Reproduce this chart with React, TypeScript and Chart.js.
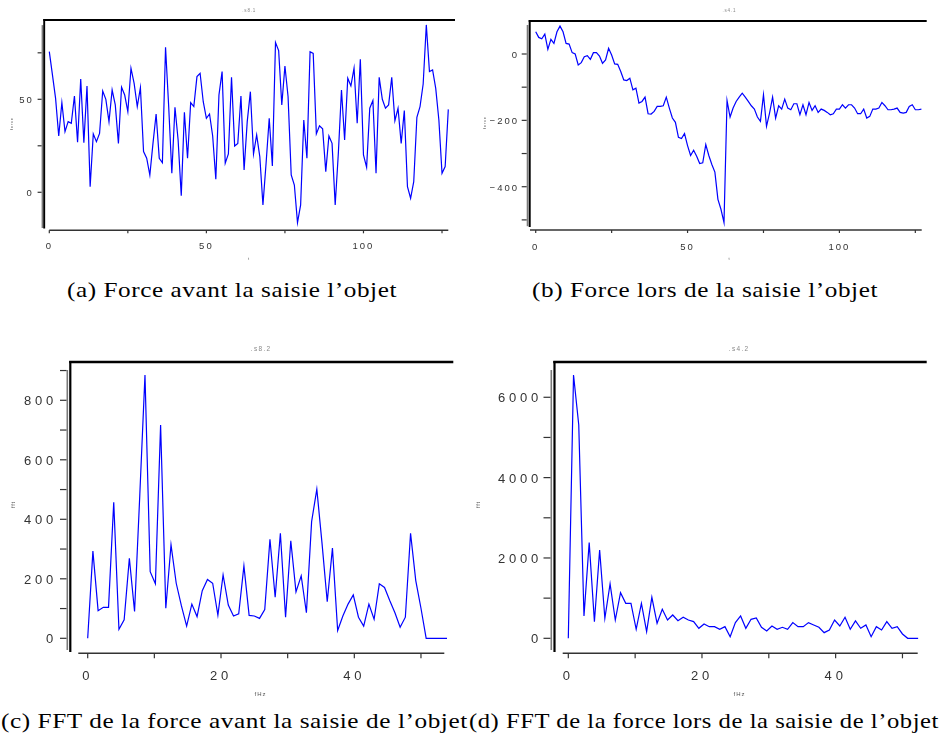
import React, { useEffect, useLayoutEffect, useRef } from 'react';
import { Chart, registerables } from 'chart.js';

Chart.register(...registerables);

// ---------- data ----------
const SERIES_A = [
  75.6, 63.1, 50.5, 30.3, 48.2, 32.6, 38.0, 37.1, 51.8, 26.9,
  60.9, 26.7, 57.2, 3.0, 31.4, 27.2, 31.7, 54.5, 50.0, 38.0,
  55.0, 47.0, 26.3, 56.5, 52.3, 43.4, 66.7, 58.6, 46.1, 56.3,
  21.9, 18.3, 9.3, 26.3, 42.1, 18.3, 15.9, 78.0, 46.1, 10.2,
  45.7, 28.1, -1.8, 43.0, 18.3, 48.2, 46.1, 62.2, 64.0, 48.7,
  39.8, 42.1, 30.3, 7.0, 52.3, 64.9, 15.6, 20.6, 61.8, 24.9,
  26.3, 51.8, 12.0, 38.0, 54.1, 20.6, 30.8, 19.2, -6.8, 15.6,
  39.8, 14.2, 80.5, 76.2, 47.0, 67.9, 51.4, 9.3, 3.9, -16.3,
  -6.8, 38.9, 18.3, 75.6, 74.7, 31.4, 35.7, 34.1, 11.1, 30.3,
  26.3, -6.8, 21.0, 55.0, 28.1, 61.3, 57.2, 66.7, 37.1, 71.5,
  20.1, 13.4, 45.2, 49.3, 10.2, 61.8, 50.0, 45.2, 47.0, 61.8,
  38.5, 45.2, 26.3, 43.9, 3.0, -3.2, 5.7, 40.3, 46.1, 58.2,
  90.0, 64.9, 65.8, 55.9, 38.9, 10.2, 13.8, 44.6,
];

const SERIES_B = [
  67, 50, 46, 60, 14, 44, 32, 67, 84, 67,
  32, 30, 4, 0, -33, -26, -8, -5, -16, 4,
  4, -6, -28, -18, 17, -3, -30, -31, -53, -78,
  -80, -73, -108, -103, -148, -143, -130, -180, -181, -173,
  -158, -158, -156, -130, -163, -193, -206, -251, -255, -240,
  -276, -306, -290, -308, -330, -328, -273, -306, -333, -356,
  -438, -468, -508, -140, -190, -163, -143, -130, -118, -130,
  -143, -156, -166, -190, -203, -123, -218, -178, -130, -193,
  -156, -166, -136, -163, -168, -150, -150, -183, -153, -183,
  -146, -170, -156, -176, -166, -170, -176, -183, -180, -166,
  -166, -153, -163, -153, -153, -163, -180, -180, -166, -193,
  -188, -166, -166, -163, -146, -156, -168, -168, -166, -163,
  -176, -178, -176, -158, -153, -168, -168, -166,
];

const SERIES_C = [
  0, 293, 93, 104, 104, 457, 30, 62, 269, 90,
  480, 885, 224, 183, 717, 101, 314, 185, 109, 41,
  115, 73, 160, 198, 185, 78, 213, 112, 75, 82,
  243, 77, 75, 67, 97, 333, 138, 353, 71, 328,
  156, 210, 86, 392, 501, 319, 123, 303, 26, 75,
  115, 146, 71, 41, 115, 64, 183, 171, 127, 86,
  37, 71, 353, 194, 101, 0, 0, 0, 0, 0, 0,
];

const SERIES_D = [
  0, 6556, 5311, 556, 2382, 415, 2199, 498, 1353, 456,
  1137, 871, 871, 224, 871, 166, 1021, 373, 722, 456,
  581, 440, 523, 456, 415, 249, 357, 290, 290, 224,
  290, 41, 390, 556, 249, 473, 506, 274, 183, 307,
  224, 274, 224, 390, 290, 290, 390, 332, 274, 141,
  207, 456, 307, 523, 224, 432, 249, 332, 41, 290,
  207, 415, 249, 290, 108, 0, 0, 0, 0,
];

const TIME_STEP = 1;          // one sample per index
const FREQ_STEP = 100 / 128;  // Hz per FFT bin

const TIME_X_TICKS = [0, 25, 50, 75, 100, 125];
const TIME_X_LABELS = [0, 50, 100];
const FREQ_X_TICKS = [0, 10, 20, 30, 40, 50];
const FREQ_X_LABELS = [0, 20, 40];
const A_Y_TICKS = [0, 25, 50, 75];
const A_Y_LABELS = [0, 50];
const B_Y_TICKS = [-500, -400, -300, -200, -100, 0];
const B_Y_LABELS = [-400, -200, 0];
const C_Y_TICKS = [0, 100, 200, 300, 400, 500, 600, 700, 800, 900];
const C_Y_LABELS = [0, 200, 400, 600, 800];
const D_Y_TICKS = [0, 1000, 2000, 3000, 4000, 5000, 6000];
const D_Y_LABELS = [0, 2000, 4000, 6000];

const TITLES = ['.s8.1', '.s4.1', '.s8.2', '.s4.2'];
const X_TITLES = ['t', 't', 'fHz', 'fHz'];
const Y_TITLES = ['force', 'force', 'fft', 'fft'];
const CAPTIONS = [
  '(a) Force avant la saisie l\u2019objet',
  '(b) Force lors de la saisie l\u2019objet',
  '(c) FFT de la force avant la saisie de l\u2019objet',
  '(d) FFT de la force lors de la saisie de l\u2019objet',
];

// ---------- layout / style ----------
type Panel = {
  key: string;
  series: number[]; step: number;
  xTicks: number[]; xLabels: number[]; yTicks: number[]; yLabels: number[];
  title: string; xTitle: string; yTitle: string;
  cx: number; cy: number; w: number; h: number;
  L: number; T: number; R: number; B: number;
  xMin: number; xMax: number; yMin: number; yMax: number;
  font: number; spacing: number; yPad: number; xPad: number;
  grayX: number; grayW: number; yTickLen: number;
  blackX: number; blackW: number; blackTop: number; blackBottom: number;
  topY: number; topW: number; topL: number; topR: number;
  xAxisY: number; xAxisW: number; xTickLen: number;
  titleX: number; titleY: number; titleSize: number; titleSp: number;
  xtX: number; xtY: number; xtSize: number;
  ytX: number; ytY: number; ytSize: number;
};

const SANS = '"Liberation Sans", Arial, Helvetica, sans-serif';

const PANELS: Panel[] = [
  {
    key: 'a', series: SERIES_A, step: TIME_STEP,
    xTicks: TIME_X_TICKS, xLabels: TIME_X_LABELS, yTicks: A_Y_TICKS, yLabels: A_Y_LABELS,
    title: TITLES[0], xTitle: X_TITLES[0], yTitle: Y_TITLES[0],
    cx: 0, cy: 0, w: 470, h: 268,
    L: 49.3, T: 25.1, R: 448.3, B: 228.0,
    xMin: 0, xMax: 127, yMin: -19.2, yMax: 89.9,
    font: 9.5, spacing: 2, yPad: 15.6, xPad: 13.0,
    grayX: 42.5, grayW: 1.8, yTickLen: 4,
    blackX: 44.2, blackW: 1.9, blackTop: 19, blackBottom: 228.5,
    topY: 20, topW: 2.2, topL: 43.3, topR: 455,
    xAxisY: 230.3, xAxisW: 1.4, xTickLen: 3,
    titleX: 248.8, titleY: 11, titleSize: 4.5, titleSp: 0.8,
    xtX: 248.5, xtY: 259, xtSize: 4,
    ytX: 12, ytY: 124, ytSize: 4,
  },
  {
    key: 'b', series: SERIES_B, step: TIME_STEP,
    xTicks: TIME_X_TICKS, xLabels: TIME_X_LABELS, yTicks: B_Y_TICKS, yLabels: B_Y_LABELS,
    title: TITLES[1], xTitle: X_TITLES[1], yTitle: Y_TITLES[1],
    cx: 470, cy: 0, w: 471, h: 268,
    L: 530, T: 25.0, R: 921.7, B: 226.2,
    xMin: -1.88, xMax: 127.1, yMin: -519, yMax: 87.4,
    font: 9.5, spacing: 2, yPad: 11, xPad: 15.4,
    grayX: 527.5, grayW: 1.6, yTickLen: 5,
    blackX: 529.7, blackW: 2, blackTop: 20, blackBottom: 227,
    topY: 21, topW: 2.2, topL: 528.7, topR: 926.7,
    xAxisY: 230, xAxisW: 1.4, xTickLen: 3,
    titleX: 729, titleY: 11, titleSize: 4.5, titleSp: 0.8,
    xtX: 729, xtY: 259, xtSize: 4,
    ytX: 485, ytY: 123, ytSize: 4,
  },
  {
    key: 'c', series: SERIES_C, step: FREQ_STEP,
    xTicks: FREQ_X_TICKS, xLabels: FREQ_X_LABELS, yTicks: C_Y_TICKS, yLabels: C_Y_LABELS,
    title: TITLES[2], xTitle: X_TITLES[2], yTitle: Y_TITLES[2],
    cx: 0, cy: 335, w: 470, h: 365,
    L: 78.3, T: 370, R: 444.3, B: 650,
    xMin: -1.41, xMax: 53.5, yMin: -39.3, yMax: 901.8,
    font: 13, spacing: 3.8, yPad: 21.2, xPad: 18.9,
    grayX: 67.3, grayW: 1.6, yTickLen: 6.5,
    blackX: 70.3, blackW: 2.2, blackTop: 361, blackBottom: 652,
    topY: 362, topW: 2.4, topL: 69.2, topR: 453.3,
    xAxisY: 653.3, xAxisW: 1.6, xTickLen: 5,
    titleX: 260.5, titleY: 349.5, titleSize: 6.5, titleSp: 1.3,
    xtX: 260, xtY: 694.5, xtSize: 6,
    ytX: 13, ytY: 505, ytSize: 5.5,
  },
  {
    key: 'd', series: SERIES_D, step: FREQ_STEP,
    xTicks: FREQ_X_TICKS, xLabels: FREQ_X_LABELS, yTicks: D_Y_TICKS, yLabels: D_Y_LABELS,
    title: TITLES[3], xTitle: X_TITLES[3], yTitle: Y_TITLES[3],
    cx: 470, cy: 335, w: 471, h: 365,
    L: 562.7, T: 370, R: 917.7, B: 650,
    xMin: -0.84, xMax: 52.28, yMin: -291, yMax: 6679,
    font: 13, spacing: 3.8, yPad: 20.6, xPad: 18.9,
    grayX: 551.3, grayW: 1.6, yTickLen: 7,
    blackX: 554.5, blackW: 2.2, blackTop: 361, blackBottom: 652,
    topY: 362, topW: 2.4, topL: 553.3, topR: 926.7,
    xAxisY: 653.3, xAxisW: 1.6, xTickLen: 5,
    titleX: 738.5, titleY: 349.5, titleSize: 6.5, titleSp: 1.3,
    xtX: 739, xtY: 694.5, xtSize: 6,
    ytX: 478, ytY: 505, ytSize: 5.5,
  },
];

const fmt = (v: number) => String(v).replace('-', '\u2212');

function makeDeco(p: Panel) {
  const sx = (x: number) => x - p.cx;
  const sy = (y: number) => y - p.cy;
  const seg = (ctx: any, x1: number, y1: number, x2: number, y2: number) => {
    ctx.beginPath();
    ctx.moveTo(x1, y1);
    ctx.lineTo(x2, y2);
    ctx.stroke();
  };
  const label = (ctx: any, s: string, x: number, y: number, size: number, sp: number, color: string, rot = 0) => {
    ctx.save();
    ctx.translate(sx(x), sy(y));
    if (rot) ctx.rotate(rot);
    ctx.font = `${size}px ${SANS}`;
    ctx.letterSpacing = sp + 'px';
    ctx.fillStyle = color;
    ctx.textAlign = 'center';
    ctx.textBaseline = 'middle';
    ctx.fillText(s, sp / 2, 0);
    ctx.restore();
  };
  return {
    id: 'deco_' + p.key,
    beforeLayout(chart: any) {
      chart.ctx.letterSpacing = p.spacing + 'px';
    },
    beforeDraw(chart: any) {
      chart.ctx.letterSpacing = p.spacing + 'px';
    },
    afterDraw(chart: any) {
      const ctx = chart.ctx;
      const ca = chart.chartArea;
      const xs = chart.scales.x;
      const ys = chart.scales.y;
      ctx.save();
      ctx.lineCap = 'butt';
      // gray y spine with ticks
      ctx.strokeStyle = '#7a7a7a';
      ctx.lineWidth = p.grayW;
      seg(ctx, sx(p.grayX), ca.top, sx(p.grayX), ca.bottom);
      ctx.strokeStyle = '#333';
      ctx.lineWidth = 1.2;
      const gl = sx(p.grayX) - p.grayW / 2;
      ys.ticks.forEach((t: any) => {
        const y = ys.getPixelForValue(t.value);
        seg(ctx, gl - p.yTickLen, y, gl, y);
      });
      // thick black frame (left + top)
      ctx.strokeStyle = '#000';
      ctx.lineWidth = p.blackW;
      seg(ctx, sx(p.blackX), sy(p.blackTop), sx(p.blackX), sy(p.blackBottom));
      ctx.lineWidth = p.topW;
      seg(ctx, sx(p.topL), sy(p.topY), sx(p.topR), sy(p.topY));
      // x axis line with ticks
      ctx.strokeStyle = '#333';
      ctx.lineWidth = p.xAxisW;
      seg(ctx, ca.left, sy(p.xAxisY), ca.right, sy(p.xAxisY));
      ctx.lineWidth = 1.2;
      xs.ticks.forEach((t: any) => {
        const x = xs.getPixelForValue(t.value);
        seg(ctx, x, sy(p.xAxisY), x, sy(p.xAxisY) + p.xTickLen);
      });
      ctx.restore();
      // small texts
      label(ctx, p.title, p.titleX, p.titleY, p.titleSize, p.titleSp, '#888');
      label(ctx, p.xTitle, p.xtX, p.xtY, p.xtSize, 1, '#555');
      label(ctx, p.yTitle, p.ytX, p.ytY, p.ytSize, 0.8, '#555', -Math.PI / 2);
      ctx.letterSpacing = p.spacing + 'px';
    },
  };
}

function buildConfig(p: Panel): any {
  const pts = p.series.map((y, i) => ({ x: i * p.step, y }));
  const tickFont = { family: SANS, size: p.font };
  // axis boxes take all room between the plot area and the canvas edge, so labels are never clipped
  const yAxisW = p.L - p.cx - 1;
  const xAxisH = p.cy + p.h - p.B - 1;
  return {
    type: 'line',
    data: {
      datasets: [
        {
          data: pts,
          borderColor: '#0000ff',
          borderWidth: 1.2,
          pointRadius: 0,
          fill: false,
          tension: 0,
          clip: false,
        },
      ],
    },
    options: {
      responsive: false,
      animation: false,
      devicePixelRatio: 1,
      events: [],
      layout: {
        padding: {
          left: 1,
          top: p.T - p.cy,
          right: p.cx + p.w - p.R,
          bottom: 1,
        },
      },
      plugins: { legend: { display: false }, tooltip: { enabled: false }, title: { display: false } },
      scales: {
        x: {
          type: 'linear',
          position: 'bottom',
          min: p.xMin,
          max: p.xMax,
          grid: { display: false, drawTicks: false },
          border: { display: false },
          ticks: {
            autoSkip: false,
            maxRotation: 0,
            minRotation: 0,
            includeBounds: false,
            padding: p.xPad,
            font: tickFont,
            color: '#333',
            callback: (v: number) => (p.xLabels.includes(v) ? fmt(v) : ''),
          },
          afterBuildTicks: (s: any) => {
            s.ticks = p.xTicks.map((v) => ({ value: v }));
          },
          afterFit: (s: any) => {
            s.height = xAxisH;
          },
        },
        y: {
          type: 'linear',
          position: 'left',
          min: p.yMin,
          max: p.yMax,
          grid: { display: false, drawTicks: false },
          border: { display: false },
          ticks: {
            autoSkip: false,
            includeBounds: false,
            padding: p.yPad,
            labelOffset: 1.5,
            font: tickFont,
            color: '#333',
            callback: (v: number) => (p.yLabels.includes(v) ? fmt(v) : ''),
          },
          afterBuildTicks: (s: any) => {
            s.ticks = p.yTicks.map((v) => ({ value: v }));
          },
          afterFit: (s: any) => {
            s.width = yAxisW;
          },
        },
      },
    },
    plugins: [makeDeco(p)],
  };
}

function PanelChart({ p }: { p: Panel }) {
  const ref = useRef<HTMLCanvasElement>(null);
  useEffect(() => {
    if (!ref.current) return;
    const chart = new Chart(ref.current, buildConfig(p));
    return () => chart.destroy();
  }, [p]);
  return (
    <canvas
      ref={ref}
      width={p.w}
      height={p.h}
      style={{ position: 'absolute', left: p.cx, top: p.cy, width: p.w, height: p.h }}
    />
  );
}

type Cap = { text: string; left: number; right: number; cy: number };
const CAPTION_POS: Cap[] = [
  { text: CAPTIONS[0], left: 66.7, right: 396.7, cy: 291.7 },
  { text: CAPTIONS[1], left: 532, right: 878, cy: 291.7 },
  { text: CAPTIONS[2], left: 0.5, right: 467.3, cy: 722.5 },
  { text: CAPTIONS[3], left: 468.6, right: 938.5, cy: 722.5 },
];

function Caption({ c }: { c: Cap }) {
  const ref = useRef<HTMLSpanElement>(null);
  useLayoutEffect(() => {
    const el = ref.current;
    if (!el) return;
    el.style.transform = 'none';
    const w = el.getBoundingClientRect().width;
    if (w > 0) el.style.transform = `scaleX(${(c.right - c.left) / w})`;
  }, [c]);
  return (
    <span
      ref={ref}
      style={{
        position: 'absolute',
        left: c.left,
        top: c.cy - 14.9,
        whiteSpace: 'nowrap',
        fontFamily: '"Liberation Serif", "Times New Roman", serif',
        fontSize: 22,
        lineHeight: '26px',
        letterSpacing: '0.5px',
        transformOrigin: '0 0',
        color: '#000',
      }}
    >
      {c.text}
    </span>
  );
}

export default function App() {
  return (
    <div
      style={{
        position: 'absolute',
        left: 0,
        top: 0,
        width: 941,
        height: 740,
        background: '#fff',
        overflow: 'hidden',
      }}
    >
      {PANELS.map((p) => (
        <PanelChart key={p.key} p={p} />
      ))}
      {CAPTION_POS.map((c, i) => (
        <Caption key={i} c={c} />
      ))}
    </div>
  );
}
